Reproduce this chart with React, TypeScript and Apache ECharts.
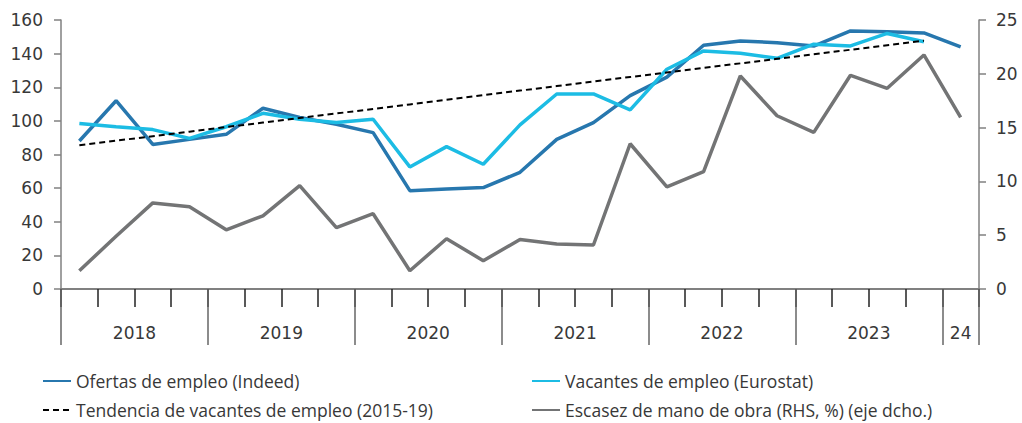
import React, { useEffect, useRef } from "react";
import * as echarts from "echarts";

const categories = [
  "2018T1", "2018T2", "2018T3", "2018T4",
  "2019T1", "2019T2", "2019T3", "2019T4",
  "2020T1", "2020T2", "2020T3", "2020T4",
  "2021T1", "2021T2", "2021T3", "2021T4",
  "2022T1", "2022T2", "2022T3", "2022T4",
  "2023T1", "2023T2", "2023T3", "2023T4",
  "2024T1",
];
const yearLabels = ["2018", "2019", "2020", "2021", "2022", "2023", "24"];

const ofertas = [88, 112, 86, 89, 92, 107.5, 102, 98, 93, 58.5, 59.5, 60.3, 69.4, 89, 99, 115, 126, 145, 147.5, 146.5, 144.5, 153.5, 153, 152.3, 144];
const vacantes = [98.5, 96.5, 94.8, 89.6, 96.5, 104.5, 101, 99, 101, 72.6, 84.7, 74.2, 97.6, 116, 116, 106.5, 130.7, 141.6, 140.2, 137.2, 145.6, 144.6, 152, 147.1, null];
const tendencia = [85.5, 88.2, 90.9, 93.6, 96.3, 99, 101.7, 104.4, 107.1, 109.8, 112.5, 115.3, 118, 120.7, 123.4, 126.1, 128.8, 131.5, 134.2, 136.9, 139.6, 142.3, 145, 147.7, null];
const escasez = [1.7, 4.9, 8.0, 7.65, 5.5, 6.8, 9.6, 5.7, 7.0, 1.7, 4.67, 2.63, 4.6, 4.18, 4.09, 13.5, 9.5, 10.9, 19.8, 16.1, 14.56, 19.86, 18.65, 21.75, 15.96];

const names = {
  ofertas: "Ofertas de empleo (Indeed)",
  vacantes: "Vacantes de empleo (Eurostat)",
  tendencia: "Tendencia de vacantes de empleo (2015-19)",
  escasez: "Escasez de mano de obra (RHS, %) (eje dcho.)",
};

const AXIS_FONT = "'DejaVu Sans', sans-serif";
const LEGEND_FONT = "'Open Sans', 'Noto Sans', sans-serif";
const TEXT_COLOR = "#383838";

export default function App() {
  const ref = useRef<HTMLDivElement>(null);
  useEffect(() => {
    if (!ref.current) return;
    const chart = echarts.init(ref.current, null, { renderer: "svg" });
    const band = 918 / 25;
    const mkLegend = (left: number, top: number, name: string) => ({
      orient: "horizontal",
      left,
      top,
      itemWidth: 28,
      itemHeight: 14,
      itemGap: 0,
      itemTextGap: 2,
      padding: 0,
      itemStyle: { opacity: 0 },
      textStyle: { fontFamily: LEGEND_FONT, fontSize: 17.5, color: TEXT_COLOR, lineHeight: 20 },
      selectedMode: false,
      data: [name],
    });
    chart.setOption({
      animation: false,
      grid: { left: 61, right: 43, top: 20, bottom: 134, containLabel: false },
      legend: [
        mkLegend(42, 371, names.ofertas),
        mkLegend(42, 400, names.tendencia),
        mkLegend(531, 371, names.vacantes),
        mkLegend(531, 400, names.escasez),
      ],
      xAxis: [
        {
          type: "category",
          data: categories,
          position: "bottom",
          boundaryGap: true,
          axisLine: { show: true, lineStyle: { color: "#808080", width: 2 } },
          axisTick: { show: true, interval: 0, length: 18, inside: false, lineStyle: { color: "#222", width: 1.5 } },
          axisLabel: { show: false },
          splitLine: { show: false },
        },
        {
          type: "category",
          data: categories,
          position: "bottom",
          boundaryGap: true,
          axisLine: { show: false },
          axisTick: {
            show: true,
            length: 56,
            interval: (i: number) => i % 4 === 0,
            lineStyle: { color: "#666", width: 1.5 },
          },
          axisLabel: {
            show: true,
            interval: 0,
            margin: 35,
            fontFamily: AXIS_FONT,
            fontSize: 17,
            color: TEXT_COLOR,
            formatter: (_v: string, i: number) => {
              if (i === 24) return "{e|" + yearLabels[6] + "}";
              if (i % 4 === 1) return "{y|" + yearLabels[Math.floor(i / 4)] + "}";
              return "";
            },
            rich: {
              y: { fontFamily: AXIS_FONT, fontSize: 17, color: TEXT_COLOR, padding: [0, 0, 0, band] },
              e: { fontFamily: AXIS_FONT, fontSize: 17, color: TEXT_COLOR },
            },
          },
          splitLine: { show: false },
        },
      ],
      yAxis: [
        {
          type: "value",
          min: 0,
          max: 160,
          interval: 20,
          position: "left",
          axisLine: { show: true, lineStyle: { color: "#808080", width: 1.5 } },
          axisTick: { show: true, length: 7, lineStyle: { color: "#808080", width: 1.5 } },
          axisLabel: { margin: 18, fontFamily: AXIS_FONT, fontSize: 17, color: TEXT_COLOR },
          splitLine: { show: false },
        },
        {
          type: "value",
          min: 0,
          max: 25,
          interval: 5,
          position: "right",
          axisLine: { show: true, lineStyle: { color: "#808080", width: 1.5 } },
          axisTick: { show: true, length: 7, lineStyle: { color: "#808080", width: 1.5 } },
          axisLabel: { margin: 17, fontFamily: AXIS_FONT, fontSize: 17, color: TEXT_COLOR },
          splitLine: { show: false },
        },
      ],
      series: [
        {
          name: names.escasez,
          type: "line",
          yAxisIndex: 1,
          data: escasez,
          symbol: "none",
          lineStyle: { color: "#737475", width: 3.5 },
          itemStyle: { color: "#737475" },
        },
        {
          name: names.ofertas,
          type: "line",
          data: ofertas,
          symbol: "none",
          lineStyle: { color: "#2777AE", width: 3.5 },
          itemStyle: { color: "#2777AE" },
        },
        {
          name: names.vacantes,
          type: "line",
          data: vacantes,
          symbol: "none",
          lineStyle: { color: "#1CBCE4", width: 3.5 },
          itemStyle: { color: "#1CBCE4" },
        },
        {
          name: names.tendencia,
          type: "line",
          data: tendencia,
          symbol: "none",
          lineStyle: { color: "#000", width: 2, type: [6, 4] },
          itemStyle: { color: "#000" },
        },
      ],
    });
    return () => chart.dispose();
  }, []);
  return <div ref={ref} style={{ width: 1022, height: 423, position: "absolute", left: 0, top: 0 }} />;
}
